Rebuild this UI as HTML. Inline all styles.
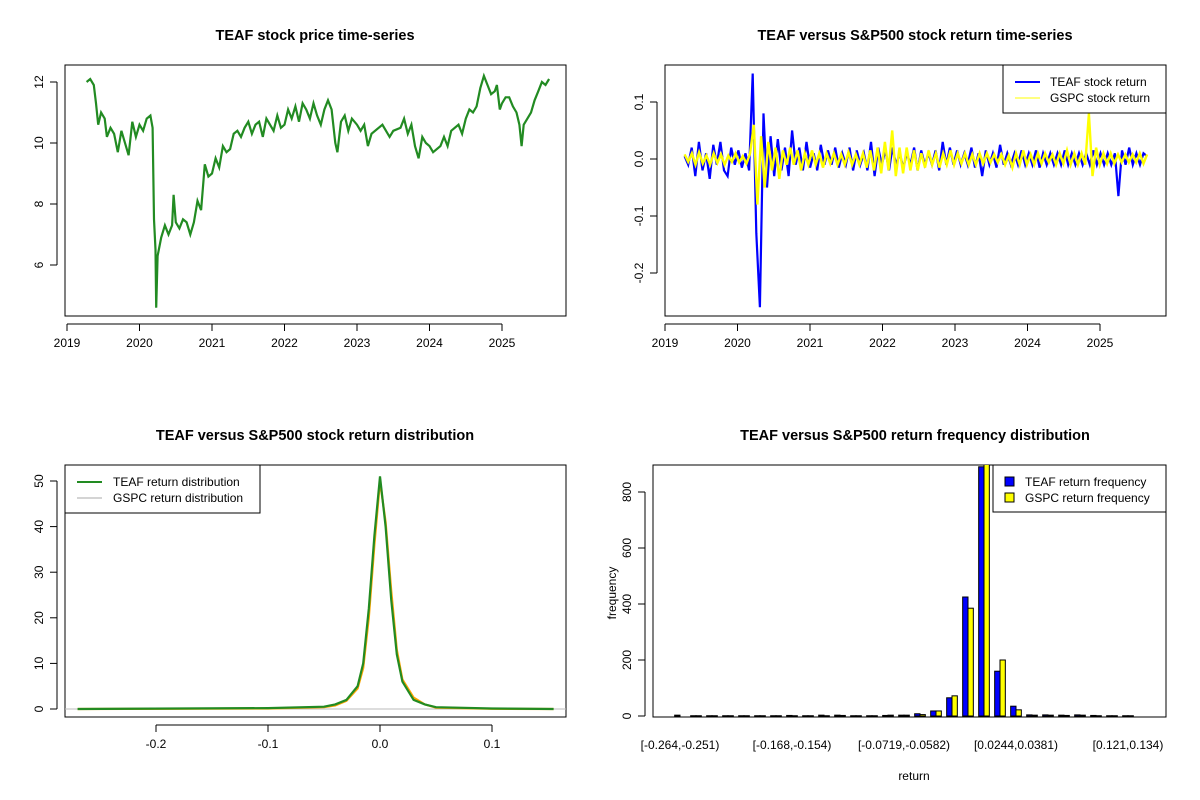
<!DOCTYPE html>
<html><head><meta charset="utf-8"><style>
html,body{margin:0;padding:0;background:#fff;}
svg{display:block;font-family:"Liberation Sans",Arial,sans-serif;}
</style></head><body>
<svg id="c" width="1200" height="800" viewBox="0 0 1200 800"></svg>
<script>
// ---- data ----
const priceYears=[2019.27,2019.32,2019.37,2019.40,2019.43,2019.47,2019.52,2019.55,2019.6,2019.65,2019.7,2019.75,2019.8,2019.85,2019.9,2019.95,2020.0,2020.05,2020.1,2020.15,2020.18,2020.2,2020.22,2020.23,2020.25,2020.3,2020.35,2020.4,2020.45,2020.47,2020.5,2020.55,2020.6,2020.65,2020.7,2020.75,2020.8,2020.85,2020.9,2020.95,2021.0,2021.05,2021.1,2021.15,2021.2,2021.25,2021.3,2021.35,2021.4,2021.45,2021.5,2021.55,2021.6,2021.65,2021.7,2021.75,2021.8,2021.85,2021.9,2021.95,2022.0,2022.05,2022.1,2022.15,2022.2,2022.25,2022.3,2022.35,2022.4,2022.45,2022.5,2022.55,2022.6,2022.65,2022.7,2022.73,2022.78,2022.83,2022.88,2022.93,2023.0,2023.05,2023.1,2023.15,2023.2,2023.3,2023.35,2023.45,2023.5,2023.6,2023.65,2023.7,2023.75,2023.8,2023.85,2023.9,2023.95,2024.0,2024.05,2024.15,2024.2,2024.25,2024.3,2024.4,2024.45,2024.5,2024.55,2024.6,2024.65,2024.7,2024.75,2024.8,2024.85,2024.9,2024.93,2024.97,2025.0,2025.05,2025.1,2025.15,2025.2,2025.24,2025.27,2025.3,2025.35,2025.4,2025.45,2025.5,2025.55,2025.6,2025.65];
const priceValues=[12.0,12.1,11.9,11.3,10.6,11.0,10.8,10.2,10.5,10.3,9.7,10.4,10.0,9.6,10.7,10.2,10.6,10.4,10.8,10.9,10.5,7.5,6.5,4.6,6.3,6.9,7.3,7.0,7.3,8.3,7.4,7.2,7.5,7.4,7.0,7.4,8.1,7.8,9.3,8.9,9.0,9.5,9.2,9.9,9.7,9.8,10.3,10.4,10.2,10.5,10.7,10.3,10.6,10.7,10.2,10.8,10.6,10.4,10.9,10.5,10.6,11.1,10.8,11.2,10.7,11.3,11.1,10.8,11.3,10.9,10.6,11.1,11.4,11.1,10.0,9.7,10.7,10.9,10.4,10.8,10.6,10.4,10.6,9.9,10.3,10.5,10.6,10.2,10.4,10.5,10.8,10.3,10.6,9.9,9.5,10.2,10.0,9.9,9.7,9.9,10.2,9.9,10.4,10.6,10.3,10.8,11.1,11.0,11.2,11.8,12.2,11.9,11.6,11.7,11.9,11.1,11.3,11.5,11.5,11.2,11.0,10.6,9.9,10.6,10.8,11.0,11.4,11.7,12.0,11.9,12.1];
const priceTicksY=[6,8,10,12];
const yearTicks=[2019,2020,2021,2022,2023,2024,2025];
const retStart=2019.27, retEnd=2025.65;
const teafReturns=[0.5,-1,2,-3,3,-2,1,-3.5,2.5,-1,3,-2,-3,2,-1,1.5,-1.5,1,-2,15,-13,-26,8,-5,4,-3,3.5,-2,2,-3,5,-1,2,-2,3,-1.5,1,-2,2.5,-1,1.5,-1,2,-1.5,1,-1,2,-2,1.5,-1,1,-2,3,-3,2,-1,1.5,-2,2,-1,1,-1.5,1,-1,2,-2,1.5,-1,1,-1,1.5,-2,3,-1,2,-1,1.5,-1,1,-1,2,-1.5,1,-3,1.5,-1,1,-1.5,2.5,-1,1,-1,1,-1,1.5,-1,1,-1,1.5,-1.5,1,-1,1,-1,1,-1,1.5,-1,1,-1,1,-1,1,-1,1.5,-1,1,-1,1,-1,1,-6.5,1.5,-1,2,-1,1,-1,1,0.5];
const gspcReturns=[0.8,-0.5,1,-1,1.2,-0.8,0.6,-1,1,-0.7,0.8,-1,0.6,-0.5,1,-0.6,0.5,-0.8,1,6,-8,4,-5,3,-2,2,-3.5,1.5,-1,2,-1,1.5,-2,1,-1,1.5,-1,1,-1.5,1,-0.8,1,-1,0.8,-1,1.2,-1,0.8,-1,1,-1.5,1.5,-2,2,-2.5,3,-2,5,-3,2,-2.5,2,-2,1.5,-2,1,-1.5,1.5,-1,1,-1.5,1,-1,1.5,-1,1,-0.8,1,-1,0.8,-1,1,-0.8,1,-0.6,0.8,-0.6,0.8,-1,0.6,-1.5,1,-1,1.5,-1,0.8,-1,1,-0.8,1,-0.6,0.8,-1,1,-0.8,1.5,-1,1,-1,1,-1,8,-3,2,-1,1,-0.8,1,-0.8,0.8,-0.6,0.8,-0.6,0.8,-0.6,1,-0.8,0.8];
const retTicksY=[-0.2,-0.1,0.0,0.1];
const densX=[-0.27,-0.1,-0.05,-0.04,-0.03,-0.02,-0.015,-0.01,-0.005,0,0.005,0.01,0.015,0.02,0.03,0.04,0.05,0.1,0.155];
const teafDens=[0,0.2,0.5,1,2,5,10,22,38,51,40,24,12,6,2,1,0.4,0.1,0];
const gspcDens=[0,0.1,0.4,0.8,1.8,4.5,9,20,36,50,41,26,13,6.5,2.5,1,0.3,0.05,0];
const densTicksX=[-0.2,-0.1,0.0,0.1];
const densTicksY=[0,10,20,30,40,50];
const binLabels=["[-0.264,-0.251)","[-0.168,-0.154)","[-0.0719,-0.0582)","[0.0244,0.0381)","[0.121,0.134)"];
const binLabelIdx=[0,7,14,21,28];
const teafFreq=[3,1,1,1,1,1,1,2,1,3,3,1,1,2,3,8,18,65,425,890,160,35,4,4,3,4,2,1,1];
const gspcFreq=[0,1,1,1,1,1,1,1,1,1,2,1,1,3,3,5,18,72,385,950,200,22,3,3,2,3,1,1,1];
const freqTicks=[0,200,400,600,800];

// ---- helpers ----
const svg=document.getElementById('c');
const NS='http://www.w3.org/2000/svg';
function mk(tag,attrs,parent){const e=document.createElementNS(NS,tag);for(const k in attrs)e.setAttribute(k,attrs[k]);(parent||svg).appendChild(e);return e;}
function txt(s,x,y,size,opts,parent){const e=mk('text',Object.assign({x:x,y:y,'font-size':size,'text-anchor':'middle',fill:'#000'},opts||{}),parent);e.textContent=s;return e;}
function lin(d0,d1,r0,r1){return v=>r0+(v-d0)*(r1-r0)/(d1-d0);}
function panel(name){
  const g=mk('g',{});
  
  
  return g;}
function box(g,x0,y0,x1,y1){const r=mk('rect',{x:x0,y:y0,width:x1-x0,height:y1-y0,fill:'none',stroke:'#000','stroke-width':1},g);}
function xTicks(g,vals,labels,sx,yb){const a=mk('g',{},g);
  mk('line',{x1:sx(vals[0]),x2:sx(vals[vals.length-1]),y1:yb+8,y2:yb+8,stroke:'#000'},a);
  vals.forEach((v,i)=>{mk('line',{x1:sx(v),x2:sx(v),y1:yb+8,y2:yb+15,stroke:'#000'},a);const t=txt(labels[i],sx(v),yb+31,12,{},a);});}
function yTicks(g,vals,labels,sy,xl){const a=mk('g',{},g);
  mk('line',{x1:xl-8,x2:xl-8,y1:sy(vals[0]),y2:sy(vals[vals.length-1]),stroke:'#000'},a);
  vals.forEach((v,i)=>{const y=sy(v);mk('line',{x1:xl-15,x2:xl-8,y1:y,y2:y,stroke:'#000'},a);const t=txt(labels[i],xl-22,y,12,{transform:`rotate(-90 ${xl-22} ${y})`},a);});}
function title(g,s,x,y){const t=txt(s,x,y,14.5,{'font-weight':'bold'},g);}
function path(g,xs,ys,sx,sy,opts){let d='';xs.forEach((x,i)=>{d+=(i?'L':'M')+sx(x).toFixed(1)+','+sy(ys[i]).toFixed(1);});return mk('path',Object.assign({d:d,fill:'none'},opts),g);}

// ---- panel 1: price ----
{const g=panel('price-panel');const X0=65,X1=566,Y0=65,Y1=316;
 box(g,X0,Y0,X1,Y1);
 const sx=lin(2019,2025,67,502), sy=lin(12,6,82,265);
 title(g,'TEAF stock price time-series',315,40);
 xTicks(g,yearTicks,yearTicks.map(String),sx,Y1);
 yTicks(g,priceTicksY,priceTicksY.map(String),sy,X0);
 const p=path(g,priceYears,priceValues,sx,sy,{stroke:'#228B22','stroke-width':2.2});
 }

// ---- panel 2: returns ----
{const g=panel('returns-panel');const X0=665,X1=1166,Y0=65,Y1=316;
 box(g,X0,Y0,X1,Y1);
 const sx=lin(2019,2025,665,1100), sy=lin(0,0.1,159,102);
 title(g,'TEAF versus S&P500 stock return time-series',915,40);
 xTicks(g,yearTicks,yearTicks.map(String),sx,Y1);
 yTicks(g,retTicksY,['-0.2','-0.1','0.0','0.1'],sy,X0);
 const tx=teafReturns.map((v,i)=>retStart+i*(retEnd-retStart)/(teafReturns.length-1));
 const gx=gspcReturns.map((v,i)=>retStart+i*(retEnd-retStart)/(gspcReturns.length-1));
 const a=path(g,tx,teafReturns.map(v=>v/100),sx,sy,{stroke:'#0000FF','stroke-width':2.2});
 
 const b=path(g,gx,gspcReturns.map(v=>v/100),sx,sy,{stroke:'#FFFF00','stroke-width':2.4});
 
 const L=mk('g',{},g);
 mk('rect',{x:1003,y:65,width:163,height:48,fill:'#fff',stroke:'#000'},L);
 mk('line',{x1:1015,x2:1040,y1:82,y2:82,stroke:'#0000FF','stroke-width':2},L);
 mk('line',{x1:1015,x2:1040,y1:98,y2:98,stroke:'#FFFF00','stroke-width':1},L);
 txt('TEAF stock return',1050,86,12,{'text-anchor':'start'},L);
 txt('GSPC stock return',1050,102,12,{'text-anchor':'start'},L);}

// ---- panel 3: density ----
{const g=panel('density-panel');const X0=65,X1=566,Y0=465,Y1=717;
 box(g,X0,Y0,X1,Y1);
 const sx=lin(0,0.1,380,492), sy=lin(0,50,709,481);
 title(g,'TEAF versus S&P500 stock return distribution',315,440);
 xTicks(g,densTicksX,['-0.2','-0.1','0.0','0.1'],sx,Y1);
 yTicks(g,densTicksY,densTicksY.map(String),sy,X0);
 mk('line',{x1:X0,x2:X1,y1:sy(0),y2:sy(0),stroke:'#bbb'},g);
 const b=path(g,densX,gspcDens,sx,sy,{stroke:'#FFA500','stroke-width':2.2});
 
 const a=path(g,densX,teafDens,sx,sy,{stroke:'#228B22','stroke-width':2.2});
 
 const L=mk('g',{},g);
 mk('rect',{x:65,y:465,width:195,height:48,fill:'#fff',stroke:'#000'},L);
 mk('line',{x1:77,x2:102,y1:482,y2:482,stroke:'#228B22','stroke-width':2},L);
 mk('line',{x1:77,x2:102,y1:498,y2:498,stroke:'#aaa','stroke-width':1},L);
 txt('TEAF return distribution',113,486,12,{'text-anchor':'start'},L);
 txt('GSPC return distribution',113,502,12,{'text-anchor':'start'},L);}

// ---- panel 4: histogram ----
{const g=panel('frequency-panel');const X0=653,X1=1166,Y0=465,Y1=717;
 box(g,X0,Y0,X1,Y1);
 const sx=lin(0,28,680,1128), sy=lin(0,800,716,492);
 const bw=(sx(1)-sx(0))/3;
 title(g,'TEAF versus S&P500 return frequency distribution',915,440);
 yTicks(g,freqTicks,freqTicks.map(String),sy,X0);
 const cp=mk('clipPath',{id:'hclip'},g);mk('rect',{x:X0,y:Y0,width:X1-X0,height:Y1-Y0},cp);
 const bars=mk('g',{'clip-path':'url(#hclip)'},g);
 teafFreq.forEach((v,i)=>{const c=sx(i);
   const r=mk('rect',{x:c-bw,y:sy(v),width:bw,height:sy(0)-sy(v),fill:'#0000FF',stroke:'#000','stroke-width':1},bars);
   
   const w=gspcFreq[i];
   const r2=mk('rect',{x:c,y:sy(w),width:bw,height:sy(0)-sy(w),fill:'#FFFF00',stroke:'#000','stroke-width':1},bars);
   });
 binLabelIdx.forEach((b,i)=>{const t=txt(binLabels[i],sx(b),749,12,{},g);});
 const xl=txt('return',914,780,12,{},g);
 const yl=txt('frequency',616,593,12,{transform:'rotate(-90 616 593)'},g);
 const L=mk('g',{},g);
 mk('rect',{x:993,y:465,width:173,height:47,fill:'#fff',stroke:'#000'},L);
 mk('rect',{x:1005,y:477,width:9,height:9,fill:'#0000FF',stroke:'#000'},L);
 mk('rect',{x:1005,y:493,width:9,height:9,fill:'#FFFF00',stroke:'#000'},L);
 txt('TEAF return frequency',1025,486,12,{'text-anchor':'start'},L);
 txt('GSPC return frequency',1025,502,12,{'text-anchor':'start'},L);}
</script>
</body></html>
